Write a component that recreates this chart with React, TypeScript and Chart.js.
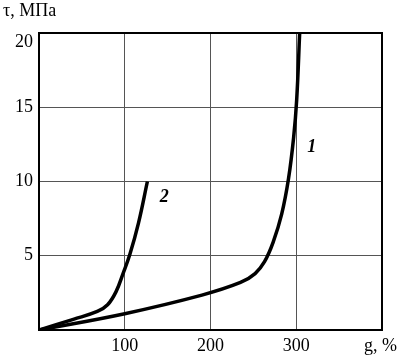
import React, { useEffect, useRef } from "react";
import { Chart, registerables } from "chart.js";

Chart.register(...registerables);

const curve1X = [0, 100, 190, 235, 252, 263, 273, 283, 291, 297, 300.5, 304];
const curve1Y = [0, 1.1, 2.35, 3.2, 3.8, 4.6, 5.9, 7.8, 10.2, 13, 15.5, 20];
const curve2X = [0, 40, 68, 80, 90, 98, 106, 116, 126.4];
const curve2Y = [0, 0.72, 1.25, 1.7, 2.6, 3.8, 5.1, 7.2, 10];
const xTicks = [100, 200, 300];
const yTicks = [5, 10, 15, 20];
const curveLabels = [
  { text: "1", x: 318, y: 12.3 },
  { text: "2", x: 146, y: 8.9 },
];
const yTitle = "τ, МПа";
const xTitle = "g, %";

export default function App() {
  const ref = useRef<HTMLCanvasElement>(null);
  useEffect(() => {
    document.body.style.margin = "0";
    const ctx = ref.current!.getContext("2d")!;
    const textPlugin = {
      id: "texts",
      afterDraw(chart: any) {
        const c = chart.ctx;
        const xs = chart.scales.x;
        const ys = chart.scales.y;
        const a = chart.chartArea;
        c.save();
        c.strokeStyle = "#000";
        c.lineWidth = 2;
        c.strokeRect(a.left, a.top, a.right - a.left, a.bottom - a.top);
        c.fillStyle = "#000";
        c.font = "18px 'Liberation Serif'";
        c.textBaseline = "middle";
        c.textAlign = "center";
        xTicks.forEach((v) => c.fillText(String(v), xs.getPixelForValue(v), a.bottom + 16));
        c.textAlign = "right";
        yTicks.forEach((v) => {
          let py = ys.getPixelForValue(v);
          if (v === ys.max) py += 9;
          c.fillText(String(v), a.left - 6, py);
        });
        c.textAlign = "left";
        c.fillText(yTitle, 3, 11);
        c.textAlign = "right";
        c.fillText(xTitle, chart.width - 2, a.bottom + 16);
        c.font = "italic bold 18px 'Liberation Serif'";
        c.textAlign = "center";
        curveLabels.forEach((l) => c.fillText(l.text, xs.getPixelForValue(l.x), ys.getPixelForValue(l.y)));
        c.restore();
      },
    };
    const chart = new Chart(ctx, {
      type: "scatter",
      data: {
        datasets: [
          {
            data: curve1X.map((x, i) => ({ x, y: curve1Y[i] })),
            showLine: true,
            borderColor: "#000",
            borderWidth: 3.5,
            pointRadius: 0,
            tension: 0.4,
          },
          {
            data: curve2X.map((x, i) => ({ x, y: curve2Y[i] })),
            showLine: true,
            borderColor: "#000",
            borderWidth: 3.5,
            pointRadius: 0,
            tension: 0.4,
          },
        ],
      },
      options: {
        animation: false,
        responsive: false,
        layout: { padding: { left: 39, right: 17, top: 33, bottom: 26 } },
        plugins: { legend: { display: false }, tooltip: { enabled: false } },
        scales: {
          x: {
            type: "linear",
            min: 0,
            max: 400,
            ticks: { display: false, stepSize: 100 },
            grid: { color: "#555", lineWidth: 1, drawTicks: false },
            border: { display: false },
          },
          y: {
            type: "linear",
            min: 0,
            max: 20,
            ticks: { display: false, stepSize: 5 },
            grid: { color: "#555", lineWidth: 1, drawTicks: false },
            border: { display: false },
          },
        },
      },
      plugins: [textPlugin],
    });
    return () => chart.destroy();
  }, []);
  return (
    <div style={{ position: "fixed", left: 0, top: 0, width: 399, height: 356, background: "#fff" }}>
      <canvas ref={ref} width={399} height={356} />
    </div>
  );
}
